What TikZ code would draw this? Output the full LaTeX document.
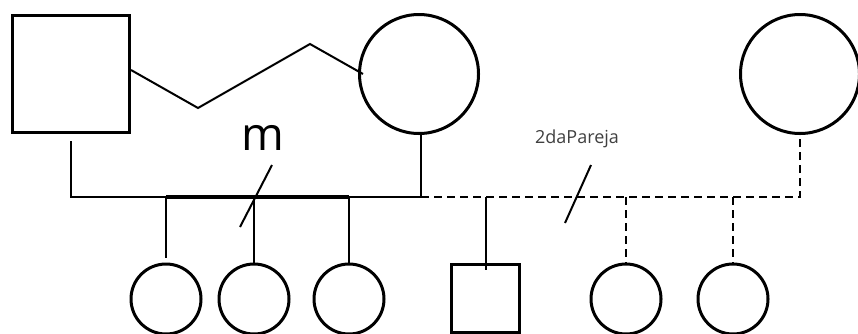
\documentclass[tikz,border=0pt]{standalone}
\usepackage{fontspec}
\setmainfont{Open Sans}
\usetikzlibrary{positioning}

\begin{document}
\begin{tikzpicture}[
  x=1pt, y=-1pt,
  hombre/.style={rectangle, draw, line width=3pt, minimum size=117pt, inner sep=0pt},
  mujer/.style={circle, draw, line width=3pt, minimum size=119pt, inner sep=0pt},
  hijo/.style={rectangle, draw, line width=3pt, minimum size=68pt, inner sep=0pt},
  hija/.style={circle, draw, line width=3pt, minimum size=70pt, inner sep=0pt},
  union/.style={line width=2pt},
  segunda/.style={line width=2pt, dash pattern=on 8pt off 5pt},
  sib/.style={line width=3.5pt},
  corte/.style={line width=2pt}
]
\useasboundingbox (0,0) rectangle (858,333);

% Padres
\node[hombre] (fa) at (71,74) {};
\node[mujer] (mo) at (419,74) {};
\node[mujer] (p2) at (800,74) {};

% Hijos
\node[hija] (c1) at (166,299) {};
\node[hija, right=15pt of c1] (c2) {};
\node[hija, right=22pt of c2] (c3) {};
\node[hijo] (c4) at (485.5,298.5) {};
\node[hija] (c5) at (626,299) {};
\node[hija, right=34pt of c5] (c6) {};

% Relacion entre los padres
\draw[union] ([yshift=4pt]fa.east) -- (198,108) -- (310,44) -- ([xshift=5pt]mo.west);

% Union y linea de hermanos
\coordinate (u) at (421,197);
\draw[union] ([yshift=-7pt]fa.south) |- (u) -- (mo.south -| u);
\draw[sib] (c1 |- u) -- (c3 |- u);
\draw[union] (c1 |- u) -- ([yshift=5pt]c1.north);
\draw[union] (c2 |- u) -- (c2.north);
\draw[union] (c3 |- u) -- (c3.north);

% Segunda pareja
\draw[segunda] (u) -| (p2.south);
\draw[union] (c4 |- u) -- ([yshift=-7pt]c4.north);
\draw[segunda] (c5 |- u) -- (c5.north);
\draw[segunda] (c6 |- u) -- (c6.north);

% Etiquetas y cortes
\node[font=\fontsize{46}{46}\selectfont, anchor=base, inner sep=0pt] (lm) at (263,150) {m};
\node[font=\fontsize{18}{18}\selectfont, text=black!75, anchor=base, inner sep=0pt] (lp) at (577,143) {2daPareja};
\coordinate (m1) at (272,165);
\coordinate (m2) at (240,227);
\coordinate (p1) at (591,165);
\coordinate (p3) at (565,223);
\draw[corte] (m1) -- (m2);
\draw[corte] (p1) -- (p3);

\end{tikzpicture}
\end{document}
